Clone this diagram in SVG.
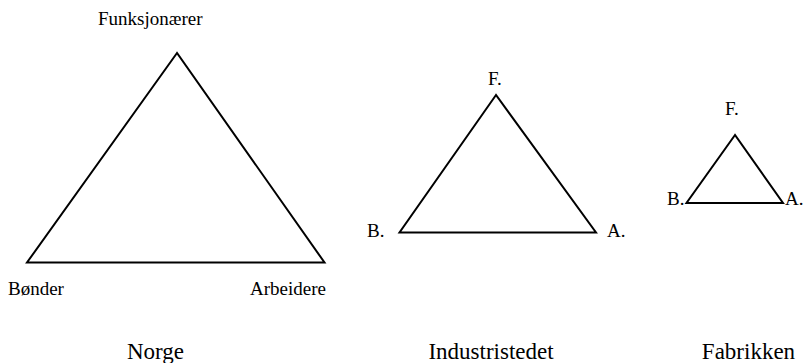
<svg xmlns="http://www.w3.org/2000/svg" width="805" height="363" viewBox="0 0 805 363">
<style>
.tri{fill:none;stroke:#000;stroke-width:2;stroke-linejoin:miter}
.t{font-family:"Liberation Serif","Times New Roman",serif;fill:#000}
.s{font-size:19px}
.b{font-size:23px}
</style>
<rect width="805" height="363" fill="#fff"/>
<g id="norge">
<polygon class="tri" points="177,53 27,262.5 324.5,262.5"/>
<text class="t s" x="98" y="25">Funksjonærer</text>
<text class="t s" x="8" y="295">Bønder</text>
<text class="t s" x="250" y="295">Arbeidere</text>
<text class="t b" x="155.5" y="359" text-anchor="middle">Norge</text>
</g>
<g id="industristedet">
<polygon class="tri" points="496,95 399.5,232.5 596,232.5"/>
<text class="t s" x="488" y="85">F.</text>
<text class="t s" x="367" y="237">B.</text>
<text class="t s" x="607" y="237">A.</text>
<text class="t b" x="491" y="359" text-anchor="middle">Industristedet</text>
</g>
<g id="fabrikken">
<polygon class="tri" points="735,135 686.5,203 783,203"/>
<text class="t s" x="725" y="115">F.</text>
<text class="t s" x="667" y="205">B.</text>
<text class="t s" x="785" y="205">A.</text>
<text class="t b" x="748.5" y="359" text-anchor="middle">Fabrikken</text>
</g>
<g id="connectors"></g>
</svg>
